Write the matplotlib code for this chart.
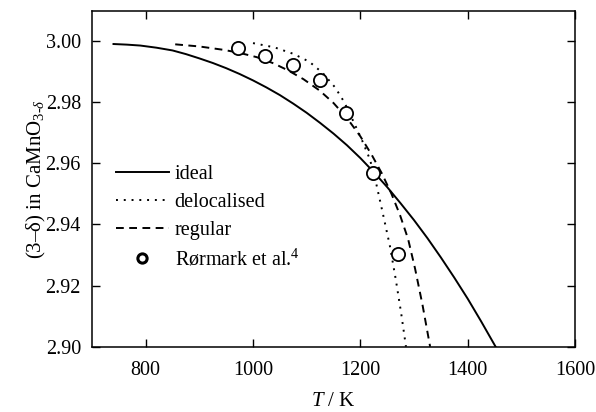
import numpy as np
import matplotlib
matplotlib.use("Agg")
import matplotlib.pyplot as plt

plt.rcParams['font.family'] = ['Liberation Serif', 'DejaVu Serif']
plt.rcParams['mathtext.fontset'] = 'custom'
plt.rcParams['mathtext.rm'] = 'Liberation Serif'
plt.rcParams['mathtext.it'] = 'Liberation Serif:italic'
plt.rcParams['font.size'] = 14.5

# model curves: oxygen content vs temperature
T_ideal = [740, 765, 790, 820, 850, 875, 900, 925, 950, 975, 1000, 1025, 1050, 1075, 1100,
           1125, 1150, 1175, 1200, 1225, 1250, 1275, 1300, 1325, 1350, 1375, 1400, 1425, 1452]
y_ideal = [2.9990, 2.9988, 2.9985, 2.9978, 2.9969, 2.9957, 2.9943, 2.9928, 2.9911, 2.9892,
           2.9871, 2.9848, 2.9823, 2.9795, 2.9765, 2.9732, 2.9697, 2.9659, 2.9617, 2.9571,
           2.9522, 2.9469, 2.9414, 2.9355, 2.9292, 2.9226, 2.9157, 2.9083, 2.9000]

T_deloc = [1000, 1040, 1075, 1105, 1130, 1153, 1170, 1187, 1202, 1218, 1230, 1242, 1255,
           1266, 1276, 1285]
y_deloc = [2.9993, 2.9979, 2.9958, 2.9932, 2.9895, 2.9848, 2.9800, 2.9737, 2.9680, 2.9612,
           2.9530, 2.9435, 2.9330, 2.9220, 2.9110, 2.9000]

T_reg = [855, 900, 945, 975, 1007, 1038, 1065, 1094, 1124, 1150, 1175, 1200, 1221, 1240,
         1258, 1274, 1289, 1302, 1316, 1330]
y_reg = [2.9989, 2.9982, 2.9971, 2.9961, 2.9947, 2.9927, 2.9904, 2.9875, 2.9838, 2.9797,
         2.9748, 2.9688, 2.9628, 2.9567, 2.9500, 2.9430, 2.9352, 2.9255, 2.9135, 2.9000]

# experimental points
T_exp = [972, 1023, 1074, 1124, 1173, 1223, 1271]
y_exp = [2.9978, 2.9951, 2.9922, 2.9871, 2.9765, 2.9567, 2.9304]

fig = plt.figure(figsize=(5.96, 4.12), dpi=100)
ax = fig.add_axes([0.1544, 0.1585, 0.8104, 0.8148])

lw = 1.4
ax.plot(T_ideal, y_ideal, color='black', lw=lw, label='ideal')
ax.plot(T_deloc, y_deloc, color='black', lw=lw, ls=(0, (1, 3.0)), label='delocalised')
ax.plot(T_reg, y_reg, color='black', lw=lw, ls=(0, (4.0, 2.8)), label='regular')
ax.plot(T_exp, y_exp, 'o', ms=9.5, mfc='white', mec='black', mew=1.3,
        label='Rørmark et al.$^{4}$')

ax.set_xlim(700, 1600)
ax.set_ylim(2.90, 3.0098)
ax.set_xticks([800, 1000, 1200, 1400, 1600])
ax.set_yticks([2.90, 2.92, 2.94, 2.96, 2.98, 3.00])
ax.set_yticklabels(['2.90', '2.92', '2.94', '2.96', '2.98', '3.00'])
ax.tick_params(direction='in', length=6, width=1, top=True, right=True, labelsize=14.5)
ax.tick_params(axis='x', pad=10)
ax.tick_params(axis='y', pad=8)
for s in ax.spines.values():
    s.set_linewidth(1.1)

ax.set_xlabel('$T$ / K', fontsize=15, labelpad=9)
ax.set_ylabel('(3–δ) in CaMnO$_{3\\text{-}δ}$', fontsize=15, labelpad=-1.5)

leg = ax.legend(loc='center left', bbox_to_anchor=(0.05, 0.385), frameon=False,
                handlelength=2.6, handletextpad=0.3, labelspacing=0.45,
                borderpad=0, borderaxespad=0, markerscale=0.7, fontsize=14.5)
leg.legend_handles[3].set_markeredgewidth(2.2)

fig.savefig('out.png', dpi=100)
